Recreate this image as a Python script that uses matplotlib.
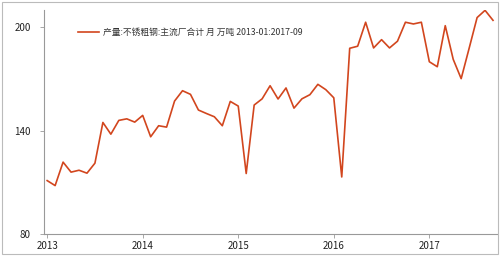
import matplotlib
matplotlib.use('Agg')
import matplotlib.pyplot as plt
from matplotlib.patches import Rectangle

plt.rcParams['font.family'] = ['Noto Sans CJK SC', 'DejaVu Sans']

# monthly output, 2013-01 .. 2017-09 (10k tonnes)
values = [
    111.1, 108.2, 121.8, 116.0, 117.1, 115.4, 121.2, 144.8, 138.0, 146.0, 146.9, 145.0,
    148.9, 136.5, 142.9, 142.1, 157.2, 163.2, 161.1, 152.0, 150.0, 148.1, 142.9, 157.0,
    154.3, 115.2, 154.9, 158.5, 166.1, 158.4, 164.8, 153.1, 158.5, 160.9, 166.9, 163.8,
    159.1, 113.2, 187.8, 189.0, 202.9, 188.0, 192.8, 188.0, 191.9, 202.9, 201.9, 202.9,
    180.0, 177.1, 200.9, 181.4, 170.2, 187.8, 205.6, 209.8, 204.0,
]
year_labels = ['2013', '2014', '2015', '2016', '2017']
year_pos = [0, 12, 24, 36, 48]
y_ticks = [80, 140, 200]
series_name = '产量:不锈粗钢:主流厂合计 月 万吨 2013-01:2017-09'

fig = plt.figure(figsize=(5.0, 2.56), dpi=100)
ax = fig.add_axes([0.087, 0.085, 0.907, 0.876])

x = list(range(len(values)))
ax.plot(x, values, color='#d2461e', lw=1.2, label=series_name)

ax.set_xlim(-0.46, 56.5)
ax.set_ylim(80, 210)
ax.set_xticks(year_pos)
ax.set_xticklabels(year_labels)
ax.set_yticks(y_ticks)
ax.tick_params(axis='both', labelsize=7, colors='#222222', length=3, width=0.6,
               color='#999999')
ax.tick_params(axis='y', pad=6)
ax.tick_params(axis='x', pad=2)
for s in ['top', 'right']:
    ax.spines[s].set_visible(False)
for s in ['left', 'bottom']:
    ax.spines[s].set_color('#999999')
    ax.spines[s].set_linewidth(0.8)

leg = ax.legend(loc='upper left', bbox_to_anchor=(0.068, 0.935), frameon=False,
                fontsize=6.3, handlelength=2.4, handletextpad=0.45, borderaxespad=0)
for t in leg.get_texts():
    t.set_color('#333333')

fig.patches.append(Rectangle((0.004, 0.006), 0.991, 0.986, transform=fig.transFigure,
                             fill=False, edgecolor='#bbbbbb', lw=0.8))

fig.savefig('out.png', dpi=100)
